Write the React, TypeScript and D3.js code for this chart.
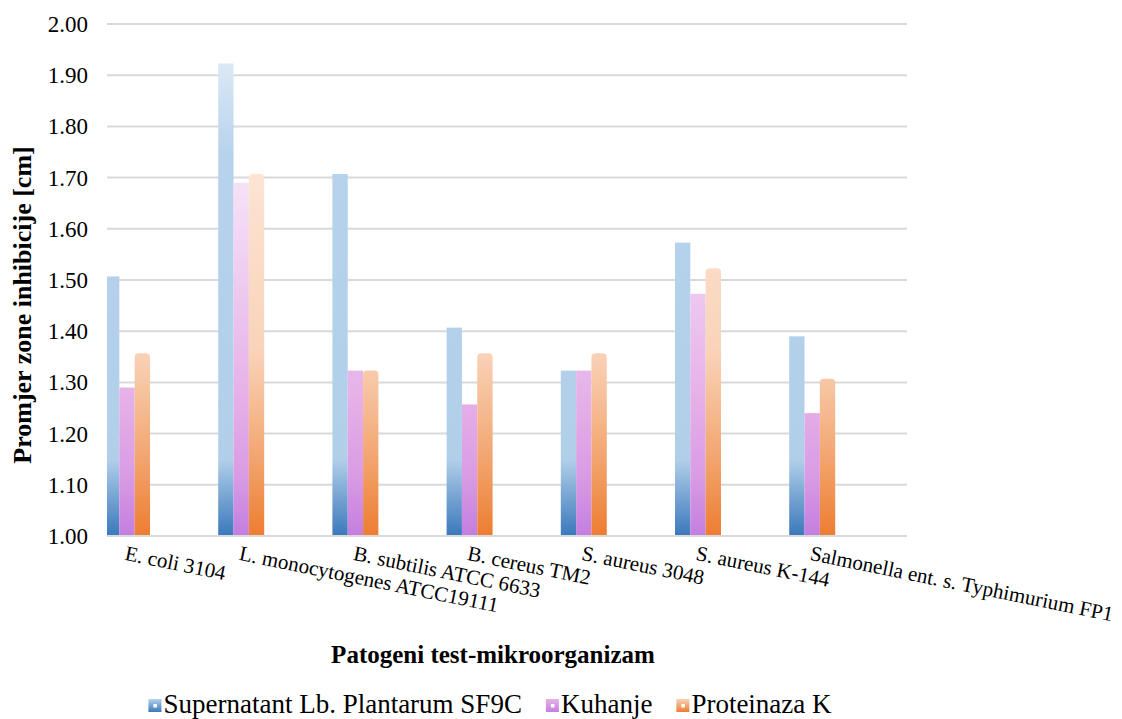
import { useEffect, useRef } from "react";
import * as d3 from "d3";

const categories = [
  "E. coli 3104",
  "L. monocytogenes ATCC19111",
  "B. subtilis ATCC 6633",
  "B. cereus TM2",
  "S. aureus 3048",
  "S. aureus K-144",
  "Salmonella ent. s. Typhimurium FP1",
];

const seriesNames = ["Supernatant Lb. Plantarum SF9C", "Kuhanje", "Proteinaza K"];

const supernatant = [1.507, 1.923, 1.707, 1.407, 1.323, 1.573, 1.39];
const kuhanje = [1.29, 1.69, 1.323, 1.257, 1.323, 1.473, 1.24];
const proteinaza = [1.357, 1.707, 1.323, 1.357, 1.357, 1.523, 1.307];

const yTicks = [1.0, 1.1, 1.2, 1.3, 1.4, 1.5, 1.6, 1.7, 1.8, 1.9, 2.0];

// gradient stops per series (offset along the value axis, top = 0)
const gradients = [
  [
    [0.07, "#dde9f6"],
    [0.26, "#b6d2ec"],
    [0.85, "#b2cfea"],
    [1.0, "#3a78bb"],
  ],
  [
    [0.3, "#f6e3f7"],
    [0.72, "#e6b2e8"],
    [0.88, "#d99ce4"],
    [1.0, "#c47ee0"],
  ],
  [
    [0.29, "#fce4d4"],
    [0.64, "#f9d3b9"],
    [0.83, "#f3a976"],
    [1.0, "#ed7d31"],
  ],
] as const;

const FONT = '"Liberation Serif", "Times New Roman", Tinos, "DejaVu Serif", serif';

export default function App() {
  const svgRef = useRef<SVGSVGElement>(null);

  useEffect(() => {
    if (!svgRef.current) return;
    const svg = d3.select(svgRef.current);
    svg.selectAll("*").remove();

    const width = 1122;
    const height = 719;
    const plotLeft = 107;
    const plotRight = 907;
    const plotTop = 24;
    const plotBottom = 536;

    svg.attr("width", width).attr("height", height).style("font-family", FONT);

    const y = d3.scaleLinear().domain([1, 2]).range([plotBottom, plotTop]);
    const x0 = d3
      .scaleBand<string>()
      .domain(categories)
      .range([104, 104 + 7 * 114.2]);
    const x1 = d3
      .scaleBand<number>()
      .domain([0, 1, 2])
      .range([0, 46]);

    const defs = svg.append("defs");
    gradients.forEach((stops, i) => {
      const lg = defs
        .append("linearGradient")
        .attr("id", `grad${i}`)
        .attr("gradientUnits", "userSpaceOnUse")
        .attr("x1", 0)
        .attr("x2", 0)
        .attr("y1", plotTop)
        .attr("y2", plotBottom);
      stops.forEach(([o, c]) => lg.append("stop").attr("offset", o).attr("stop-color", c));

      const lgL = defs
        .append("linearGradient")
        .attr("id", `legend${i}`)
        .attr("x1", 0)
        .attr("x2", 0)
        .attr("y1", 0)
        .attr("y2", 1);
      lgL.append("stop").attr("offset", 0).attr("stop-color", stops[1][1]);
      lgL.append("stop").attr("offset", 1).attr("stop-color", stops[3][1]);
    });

    defs
      .append("clipPath")
      .attr("id", "plotClip")
      .append("rect")
      .attr("x", plotLeft)
      .attr("y", 0)
      .attr("width", plotRight - plotLeft)
      .attr("height", plotBottom + 2);

    // Gridlines
    svg
      .append("g")
      .selectAll("line")
      .data(yTicks)
      .join("line")
      .attr("x1", plotLeft)
      .attr("x2", plotRight)
      .attr("y1", (d) => y(d))
      .attr("y2", (d) => y(d))
      .attr("stroke", "#d9d9d9")
      .attr("stroke-width", 2);

    // Tick labels
    svg
      .append("g")
      .selectAll("text")
      .data(yTicks)
      .join("text")
      .attr("x", 88)
      .attr("y", (d) => y(d))
      .attr("dy", "0.35em")
      .attr("text-anchor", "end")
      .style("font-family", FONT)
      .attr("font-size", 23)
      .attr("fill", "#000")
      .text((d) => d.toFixed(2));

    // Bars
    const series = [supernatant, kuhanje, proteinaza];
    const bars = svg.append("g").attr("clip-path", "url(#plotClip)");
    categories.forEach((cat, ci) => {
      series.forEach((vals, si) => {
        const bx = (x0(cat) ?? 0) + (x1(si) ?? 0);
        const bw = x1.bandwidth();
        const top = y(vals[ci]);
        if (si === 2) {
          const r = 4;
          const path = d3.path();
          path.moveTo(bx, plotBottom);
          path.lineTo(bx, top + r);
          path.quadraticCurveTo(bx, top, bx + r, top);
          path.lineTo(bx + bw - r, top);
          path.quadraticCurveTo(bx + bw, top, bx + bw, top + r);
          path.lineTo(bx + bw, plotBottom);
          path.closePath();
          bars.append("path").attr("d", path.toString()).attr("fill", `url(#grad${si})`);
        } else {
          bars
            .append("rect")
            .attr("x", bx)
            .attr("y", top)
            .attr("width", bw)
            .attr("height", plotBottom - top)
            .attr("fill", `url(#grad${si})`);
        }
      });
    });

    // Bottom axis line
    svg
      .append("line")
      .attr("x1", plotLeft)
      .attr("x2", plotRight)
      .attr("y1", plotBottom)
      .attr("y2", plotBottom)
      .attr("stroke", "#d9d9d9")
      .attr("stroke-width", 2);

    // Category labels (rotated)
    svg
      .append("g")
      .selectAll("text")
      .data(categories)
      .join("text")
      .attr(
        "transform",
        (d) => `translate(${(x0(d) ?? 0) + 23}, 545) rotate(11.5)`
      )
      .attr("dy", "0.72em")
      .style("font-family", FONT)
      .attr("font-size", 21)
      .attr("fill", "#000")
      .text((d) => d);

    // Axis titles
    svg
      .append("text")
      .attr("transform", `translate(31, ${(plotTop + plotBottom) / 2 + 25}) rotate(-90)`)
      .attr("text-anchor", "middle")
      .style("font-family", FONT)
      .attr("font-weight", "bold")
      .attr("font-size", 26)
      .attr("fill", "#000")
      .text("Promjer zone inhibicije [cm]");

    svg
      .append("text")
      .attr("x", 493)
      .attr("y", 663)
      .attr("text-anchor", "middle")
      .style("font-family", FONT)
      .attr("font-weight", "bold")
      .attr("font-size", 25)
      .attr("fill", "#000")
      .text("Patogeni test-mikroorganizam");

    // Legend
    const legend = svg.append("g");
    let cx = 0;
    seriesNames.forEach((name, i) => {
      const item = legend.append("g").attr("transform", `translate(${cx}, 0)`);
      item
        .append("rect")
        .attr("x", 0)
        .attr("y", -14)
        .attr("width", 13)
        .attr("height", 13)
        .attr("fill", `url(#legend${i})`);
      item
        .append("rect")
        .attr("x", 5)
        .attr("y", -9)
        .attr("width", 3.5)
        .attr("height", 3.5)
        .attr("fill", "#fff");
      const t = item
        .append("text")
        .attr("x", 15)
        .attr("y", 0)
        .style("font-family", FONT)
        .attr("font-size", 27)
        .attr("fill", "#000")
        .text(name);
      const len = (t.node() as SVGTextElement).getComputedTextLength();
      cx += 15 + len + 24;
    });
    const total = cx - 24;
    legend.attr("transform", `translate(${490 - total / 2}, 713)`);
  }, []);

  return (
    <div style={{ position: "absolute", left: 0, top: 0, background: "#fff" }}>
      <svg ref={svgRef} style={{ display: "block" }} />
    </div>
  );
}
